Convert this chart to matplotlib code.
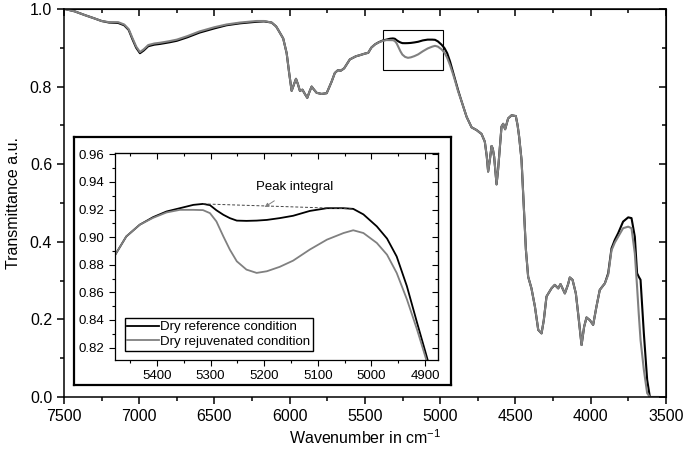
import matplotlib
matplotlib.use("Agg")
import matplotlib.pyplot as plt
from matplotlib.ticker import MultipleLocator, NullFormatter, FormatStrFormatter
from matplotlib.patches import Rectangle

plt.rcParams['font.family'] = ['Liberation Sans', 'DejaVu Sans']
plt.rcParams['mathtext.fontset'] = 'custom'
plt.rcParams['mathtext.rm'] = 'Liberation Sans'
plt.rcParams['mathtext.it'] = 'Liberation Sans'

# full spectrum (wavenumber in cm-1, transmittance)
wn = [7495, 7430, 7360, 7300, 7250, 7200, 7140, 7100, 7070, 7045, 7020, 6995,
      6970, 6940, 6900, 6860, 6800, 6750, 6680, 6600, 6500, 6420, 6330, 6220,
      6170, 6120, 6090, 6076, 6043, 6020, 6003, 5987, 5972, 5958, 5945, 5932,
      5915, 5899, 5883, 5868, 5854, 5838, 5821, 5788, 5754, 5735, 5721, 5700,
      5680, 5660, 5638, 5600, 5560, 5533, 5500,
      5478, 5457, 5432, 5407, 5382, 5357, 5332, 5314, 5301, 5289, 5276, 5264,
      5251, 5233, 5214, 5195, 5171, 5146, 5115, 5083, 5052, 5034, 5015, 4990,
      4971, 4953, 4934, 4915, 4900, 4880,
      4860, 4824, 4791, 4758, 4725, 4703, 4690, 4681, 4670, 4658, 4650, 4641,
      4625, 4615, 4608, 4592, 4581, 4568, 4548, 4525, 4497, 4485, 4475, 4459,
      4444, 4430, 4415, 4393, 4370, 4348, 4326, 4311, 4293, 4260, 4238, 4215,
      4200, 4171, 4150, 4138, 4120, 4098, 4083, 4060, 4043, 4027, 4005, 3983,
      3961, 3939, 3905, 3883, 3861, 3839, 3817, 3784, 3750, 3728, 3706, 3691,
      3680, 3668, 3646, 3624, 3606, 3550]

t_reference = [1.000, 0.994, 0.984, 0.976, 0.969, 0.965, 0.964, 0.958, 0.946, 0.922, 0.900, 0.886,
               0.893, 0.904, 0.908, 0.910, 0.914, 0.918, 0.927, 0.939, 0.950, 0.958, 0.963, 0.967,
               0.968, 0.965, 0.955, 0.946, 0.924, 0.886, 0.834, 0.789, 0.805, 0.820, 0.806, 0.789,
               0.792, 0.781, 0.771, 0.787, 0.800, 0.792, 0.784, 0.781, 0.783, 0.800, 0.813, 0.835,
               0.842, 0.841, 0.847, 0.870, 0.878, 0.881, 0.885,
               0.887, 0.9005, 0.909, 0.9145, 0.9186, 0.921, 0.9234, 0.9241, 0.9232, 0.9195, 0.9162, 0.9138,
               0.912, 0.9118, 0.912, 0.9125, 0.9138, 0.9155, 0.919, 0.921, 0.921, 0.9205, 0.9165, 0.9078,
               0.899, 0.886, 0.8645, 0.838, 0.8176, 0.790,
               0.765, 0.722, 0.695, 0.688, 0.678, 0.658, 0.620, 0.581, 0.610, 0.647, 0.640, 0.619,
               0.548, 0.585, 0.619, 0.697, 0.704, 0.690, 0.718, 0.726, 0.724, 0.700, 0.671, 0.611,
               0.490, 0.380, 0.310, 0.280, 0.233, 0.173, 0.164, 0.198, 0.259, 0.280, 0.289, 0.280,
               0.291, 0.267, 0.290, 0.308, 0.302, 0.267, 0.216, 0.134, 0.181, 0.205, 0.198, 0.186,
               0.233, 0.276, 0.293, 0.319, 0.383, 0.405, 0.422, 0.452, 0.463, 0.461, 0.413, 0.319,
               0.310, 0.302, 0.164, 0.044, 0.000, 0.000]

t_rejuvenated = [1.000, 0.994, 0.984, 0.976, 0.969, 0.966, 0.966, 0.960, 0.948, 0.925, 0.903, 0.889,
                 0.896, 0.907, 0.911, 0.913, 0.917, 0.921, 0.930, 0.942, 0.953, 0.960, 0.965, 0.969,
                 0.969, 0.965, 0.955, 0.946, 0.924, 0.886, 0.834, 0.789, 0.805, 0.820, 0.806, 0.789,
                 0.792, 0.781, 0.771, 0.787, 0.800, 0.792, 0.784, 0.781, 0.783, 0.800, 0.813, 0.835,
                 0.842, 0.841, 0.847, 0.870, 0.878, 0.881, 0.885,
                 0.887, 0.9005, 0.909, 0.914, 0.9179, 0.9198, 0.9198, 0.9196, 0.9174, 0.9114, 0.9005, 0.891,
                 0.8825, 0.8765, 0.8741, 0.8753, 0.8785, 0.883, 0.891, 0.8982, 0.903, 0.905, 0.903, 0.8958,
                 0.8873, 0.8741, 0.855, 0.833, 0.814, 0.787,
                 0.765, 0.722, 0.695, 0.688, 0.678, 0.658, 0.620, 0.581, 0.610, 0.647, 0.640, 0.619,
                 0.548, 0.585, 0.619, 0.697, 0.704, 0.690, 0.718, 0.726, 0.724, 0.700, 0.671, 0.611,
                 0.490, 0.380, 0.310, 0.280, 0.233, 0.173, 0.164, 0.198, 0.259, 0.280, 0.289, 0.280,
                 0.291, 0.267, 0.290, 0.308, 0.302, 0.267, 0.216, 0.134, 0.181, 0.205, 0.198, 0.186,
                 0.233, 0.276, 0.293, 0.315, 0.378, 0.398, 0.413, 0.435, 0.439, 0.435, 0.370, 0.284,
                 0.215, 0.147, 0.070, 0.010, 0.000, 0.000]

labels = ['Dry reference condition', 'Dry rejuvenated condition']
colors = ['black', '#808080']

# zoom box in main plot
box_x = [5380, 4982]
box_y = [0.843, 0.946]

# peak integral baseline
base_x = [5314, 5034]
base_y = [0.9241, 0.9205]


def mirror_ticks(axis_obj, major, minor, maj_len, min_len, width):
    axis_obj.set_major_locator(MultipleLocator(major))
    axis_obj.set_minor_locator(MultipleLocator(minor))
    axis_obj.set_major_formatter(NullFormatter())
    axis_obj.set_minor_formatter(NullFormatter())


fig = plt.figure(figsize=(6.85, 4.53), dpi=100)
ax = fig.add_axes([0.0934, 0.1236, 0.8786, 0.8566])

ax.plot(wn, t_reference, color=colors[0], lw=1.5)
ax.plot(wn, t_rejuvenated, color=colors[1], lw=1.5)
ax.add_patch(Rectangle((box_x[1], box_y[0]), box_x[0] - box_x[1], box_y[1] - box_y[0],
                       fill=False, ec='black', lw=0.8))

ax.set_xlim(7500, 3500)
ax.set_ylim(0, 1)
ax.xaxis.set_major_locator(MultipleLocator(500))
ax.xaxis.set_minor_locator(MultipleLocator(250))
ax.yaxis.set_major_locator(MultipleLocator(0.2))
ax.yaxis.set_minor_locator(MultipleLocator(0.1))
ax.yaxis.set_major_formatter(FormatStrFormatter('%.1f'))
ax.tick_params(which='both', direction='out', labelsize=11.5, width=1.1)
ax.tick_params(which='major', length=5)
ax.tick_params(which='minor', length=3)
for s in ax.spines.values():
    s.set_linewidth(1.1)
ax.set_xlabel(r'Wavenumber in cm$^{-1}$', fontsize=11.5, labelpad=3)
ax.set_ylabel('Transmittance a.u.', fontsize=11.5, labelpad=6)

top = ax.secondary_xaxis('top')
mirror_ticks(top.xaxis, 500, 250, 5, 3, 1.1)
top.tick_params(which='both', direction='in', width=1.1)
top.tick_params(which='major', length=5)
top.tick_params(which='minor', length=3)
right = ax.secondary_yaxis('right')
mirror_ticks(right.yaxis, 0.2, 0.1, 5, 3, 1.1)
right.tick_params(which='both', direction='in', width=1.1)
right.tick_params(which='major', length=5)
right.tick_params(which='minor', length=3)

# frame around the inset
frame = fig.add_axes([0.108, 0.150, 0.550, 0.5475])
frame.set_xticks([])
frame.set_yticks([])
frame.set_facecolor('white')
for s in frame.spines.values():
    s.set_linewidth(1.6)

ins = fig.add_axes([0.1679, 0.2053, 0.4715, 0.457])
ins.plot(wn, t_reference, color=colors[0], lw=1.3, label=labels[0])
ins.plot(wn, t_rejuvenated, color=colors[1], lw=1.3, label=labels[1])
ins.plot(base_x, base_y, color='#444444', lw=0.7, ls=(0, (3, 2)))
ins.annotate('Peak integral', xy=(5199, 0.9218), xytext=(5143, 0.936),
             ha='center', va='center', fontsize=9.5,
             arrowprops=dict(arrowstyle='-|>', color='#808080', lw=0.7,
                             shrinkA=6, shrinkB=0, mutation_scale=6))
ins.set_xlim(5478, 4876)
ins.set_ylim(0.811, 0.961)
ins.xaxis.set_major_locator(MultipleLocator(100))
ins.xaxis.set_minor_locator(MultipleLocator(50))
ins.yaxis.set_major_locator(MultipleLocator(0.02))
ins.yaxis.set_minor_locator(MultipleLocator(0.01))
ins.tick_params(which='both', direction='out', labelsize=9.5, width=0.8)
ins.tick_params(which='major', length=4)
ins.tick_params(which='minor', length=2)
for s in ins.spines.values():
    s.set_linewidth(0.9)
itop = ins.secondary_xaxis('top')
mirror_ticks(itop.xaxis, 100, 50, 4, 2, 0.8)
itop.tick_params(which='both', direction='in', width=0.8)
itop.tick_params(which='major', length=4)
itop.tick_params(which='minor', length=2)
iright = ins.secondary_yaxis('right')
mirror_ticks(iright.yaxis, 0.02, 0.01, 4, 2, 0.8)
iright.tick_params(which='both', direction='in', width=0.8)
iright.tick_params(which='major', length=4)
iright.tick_params(which='minor', length=2)

leg = ins.legend(loc='lower left', bbox_to_anchor=(0.03, 0.045), borderaxespad=0,
                 fontsize=9.5, fancybox=False, framealpha=1, edgecolor='black',
                 handlelength=2.4, handletextpad=0.1, borderpad=0.2, labelspacing=0.2)
leg.get_frame().set_linewidth(1.0)

fig.savefig('out.png', dpi=100)
